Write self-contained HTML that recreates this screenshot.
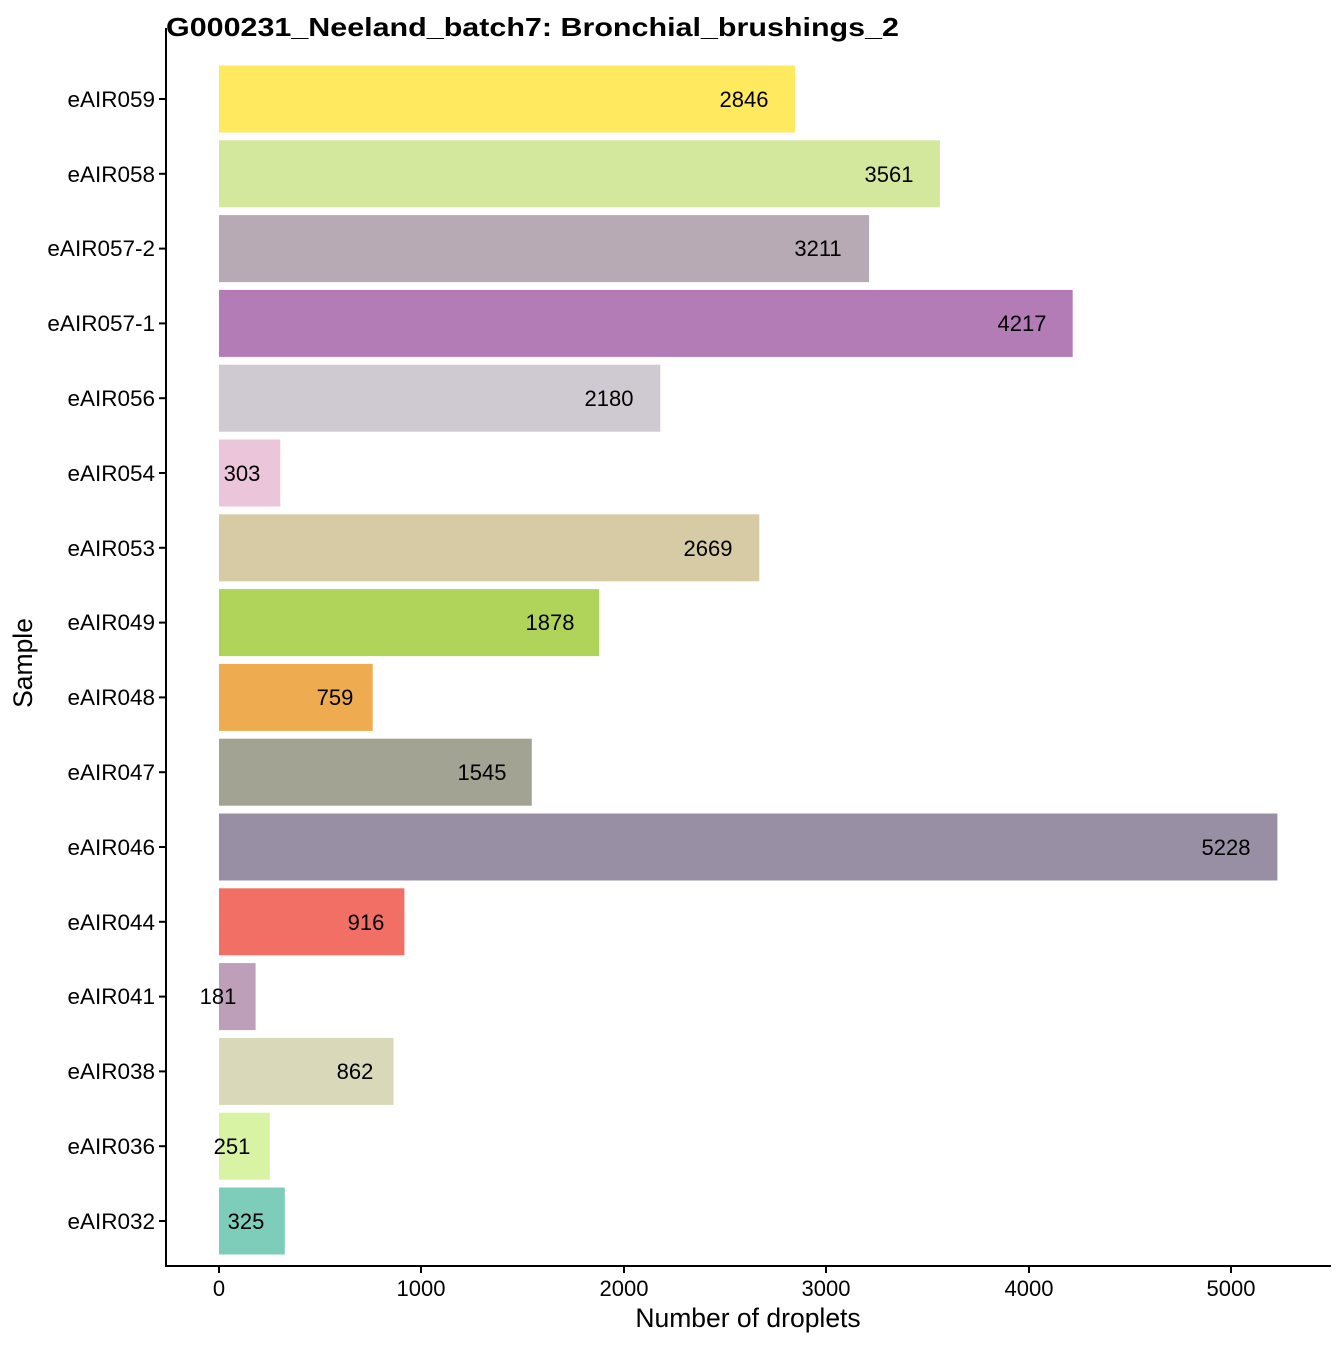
<!DOCTYPE html>
<html><head><meta charset="utf-8"><style>
html,body{margin:0;padding:0;background:#fff;}
text{font-family:"Liberation Sans",Arial,sans-serif;}
</style></head><body>
<svg width="1344" height="1344" viewBox="0 0 1344 1344" xmlns="http://www.w3.org/2000/svg">
<rect width="1344" height="1344" fill="#fff"/>
<text x="166" y="36" font-size="26" font-weight="bold" fill="#000" textLength="733" lengthAdjust="spacingAndGlyphs">G000231_Neeland_batch7: Bronchial_brushings_2</text>
<g>
<rect x="219" y="65.5" width="576.2" height="67" fill="#fee95f"/>
<rect x="219" y="140.3" width="720.9" height="67" fill="#d3e89d"/>
<rect x="219" y="215.1" width="650.1" height="67" fill="#b7aab4"/>
<rect x="219" y="289.9" width="853.7" height="67" fill="#b37cb7"/>
<rect x="219" y="364.7" width="441.3" height="67" fill="#cfcad1"/>
<rect x="219" y="439.5" width="61.3" height="67" fill="#ebc6da"/>
<rect x="219" y="514.3" width="540.3" height="67" fill="#d6cba4"/>
<rect x="219" y="589.1" width="380.2" height="67" fill="#b0d459"/>
<rect x="219" y="663.9" width="153.7" height="67" fill="#eeab4f"/>
<rect x="219" y="738.7" width="312.8" height="67" fill="#a3a393"/>
<rect x="219" y="813.5" width="1058.4" height="67" fill="#988fa4"/>
<rect x="219" y="888.3" width="185.4" height="67" fill="#f26f66"/>
<rect x="219" y="963.1" width="36.6" height="67" fill="#be9fba"/>
<rect x="219" y="1037.9" width="174.5" height="67" fill="#d9d8b8"/>
<rect x="219" y="1112.7" width="50.8" height="67" fill="#d9f3a4"/>
<rect x="219" y="1187.5" width="65.8" height="67" fill="#7ecdbb"/>
</g>
<g font-size="22" fill="#000" text-anchor="middle">
<text x="744" y="107">2846</text>
<text x="889" y="182">3561</text>
<text x="818" y="256">3211</text>
<text x="1022" y="331">4217</text>
<text x="609" y="406">2180</text>
<text x="242" y="481">303</text>
<text x="708" y="556">2669</text>
<text x="550" y="630">1878</text>
<text x="335" y="705">759</text>
<text x="482" y="780">1545</text>
<text x="1226" y="855">5228</text>
<text x="366" y="930">916</text>
<text x="218" y="1004">181</text>
<text x="355" y="1079">862</text>
<text x="232" y="1154">251</text>
<text x="246" y="1229">325</text>
</g>
<g stroke="#000" stroke-width="2">
<line x1="159" y1="99" x2="166" y2="99"/>
<line x1="159" y1="173.8" x2="166" y2="173.8"/>
<line x1="159" y1="248.6" x2="166" y2="248.6"/>
<line x1="159" y1="323.4" x2="166" y2="323.4"/>
<line x1="159" y1="398.2" x2="166" y2="398.2"/>
<line x1="159" y1="473" x2="166" y2="473"/>
<line x1="159" y1="547.8" x2="166" y2="547.8"/>
<line x1="159" y1="622.6" x2="166" y2="622.6"/>
<line x1="159" y1="697.4" x2="166" y2="697.4"/>
<line x1="159" y1="772.2" x2="166" y2="772.2"/>
<line x1="159" y1="847" x2="166" y2="847"/>
<line x1="159" y1="921.8" x2="166" y2="921.8"/>
<line x1="159" y1="996.6" x2="166" y2="996.6"/>
<line x1="159" y1="1071.4" x2="166" y2="1071.4"/>
<line x1="159" y1="1146.2" x2="166" y2="1146.2"/>
<line x1="159" y1="1221" x2="166" y2="1221"/>
<line x1="219" y1="1266" x2="219" y2="1273"/>
<line x1="421" y1="1266" x2="421" y2="1273"/>
<line x1="624" y1="1266" x2="624" y2="1273"/>
<line x1="826" y1="1266" x2="826" y2="1273"/>
<line x1="1029" y1="1266" x2="1029" y2="1273"/>
<line x1="1231" y1="1266" x2="1231" y2="1273"/>
<line x1="166" y1="28" x2="166" y2="1267"/>
<line x1="165" y1="1266" x2="1331" y2="1266"/>
</g>
<g font-size="22.5" fill="#000" text-anchor="end">
<text x="155" y="107">eAIR059</text>
<text x="155" y="182">eAIR058</text>
<text x="155" y="256">eAIR057-2</text>
<text x="155" y="331">eAIR057-1</text>
<text x="155" y="406">eAIR056</text>
<text x="155" y="481">eAIR054</text>
<text x="155" y="556">eAIR053</text>
<text x="155" y="630">eAIR049</text>
<text x="155" y="705">eAIR048</text>
<text x="155" y="780">eAIR047</text>
<text x="155" y="855">eAIR046</text>
<text x="155" y="930">eAIR044</text>
<text x="155" y="1004">eAIR041</text>
<text x="155" y="1079">eAIR038</text>
<text x="155" y="1154">eAIR036</text>
<text x="155" y="1229">eAIR032</text>
</g>
<g font-size="22" fill="#000" text-anchor="middle">
<text x="219" y="1296">0</text>
<text x="421" y="1296">1000</text>
<text x="624" y="1296">2000</text>
<text x="826" y="1296">3000</text>
<text x="1029" y="1296">4000</text>
<text x="1231" y="1296">5000</text>
</g>
<text x="748" y="1327" font-size="26.5" text-anchor="middle" fill="#000">Number of droplets</text>
<text transform="translate(32,663) rotate(-90)" font-size="26.5" text-anchor="middle" fill="#000">Sample</text>
</svg>
</body></html>
